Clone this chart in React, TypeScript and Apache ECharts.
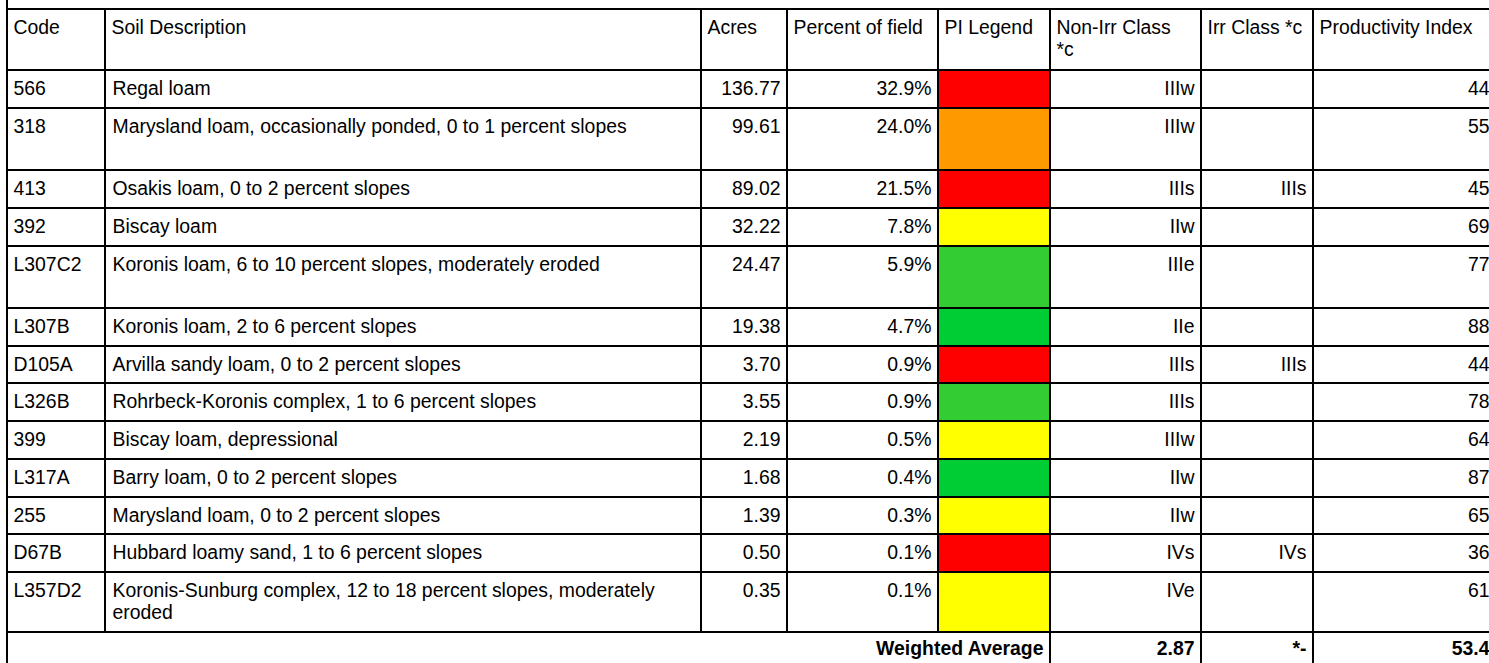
import React, { useEffect, useRef } from "react";
import * as echarts from "echarts";

// ---- data ----
const headers = [
  "Code",
  "Soil Description",
  "Acres",
  "Percent of field",
  "PI Legend",
  "Non-Irr Class\n*c",
  "Irr Class *c",
  "Productivity Index",
];
const codes = ["566", "318", "413", "392", "L307C2", "L307B", "D105A", "L326B", "399", "L317A", "255", "D67B", "L357D2"];
const descriptions = [
  "Regal loam",
  "Marysland loam, occasionally ponded, 0 to 1 percent slopes",
  "Osakis loam, 0 to 2 percent slopes",
  "Biscay loam",
  "Koronis loam, 6 to 10 percent slopes, moderately eroded",
  "Koronis loam, 2 to 6 percent slopes",
  "Arvilla sandy loam, 0 to 2 percent slopes",
  "Rohrbeck-Koronis complex, 1 to 6 percent slopes",
  "Biscay loam, depressional",
  "Barry loam, 0 to 2 percent slopes",
  "Marysland loam, 0 to 2 percent slopes",
  "Hubbard loamy sand, 1 to 6 percent slopes",
  "Koronis-Sunburg complex, 12 to 18 percent slopes, moderately\neroded",
];
const acres = [136.77, 99.61, 89.02, 32.22, 24.47, 19.38, 3.7, 3.55, 2.19, 1.68, 1.39, 0.5, 0.35];
const percentOfField = [32.9, 24.0, 21.5, 7.8, 5.9, 4.7, 0.9, 0.9, 0.5, 0.4, 0.3, 0.1, 0.1];
const nonIrrClass = ["IIIw", "IIIw", "IIIs", "IIw", "IIIe", "IIe", "IIIs", "IIIs", "IIIw", "IIw", "IIw", "IVs", "IVe"];
const irrClass = ["", "", "IIIs", "", "", "", "IIIs", "", "", "", "", "IVs", ""];
const productivityIndex = [44, 55, 45, 69, 77, 88, 44, 78, 64, 87, 65, 36, 61];
const weightedLabel = "Weighted Average";
const weightedNonIrr = "2.87";
const weightedIrr = "*-";
const weightedPI = "53.4";

// ---- layout ----
const colX = [7, 105, 701, 787, 938, 1050, 1201, 1313, 1496];
const rowY = [9, 70, 108, 170, 208, 246, 308, 346, 383, 421, 459, 497, 534, 572, 632, 700];
const FONT = "'Liberation Sans', Arial, Helvetica, sans-serif";
const FS = 19.4;
const LH = 22;
const PAD = 6.5;

function legendColor(pi: number): string {
  if (pi < 50) return "#FF0000";
  if (pi < 60) return "#FF9900";
  if (pi < 70) return "#FFFF00";
  if (pi < 80) return "#33CC33";
  return "#00CC33";
}

function txt(text: string, x: number, top: number, align: "left" | "right", bold = false, dy = 6.5) {
  return {
    type: "text",
    x,
    y: top + dy,
    silent: true,
    z: 20,
    style: {
      text,
      fill: "#000",
      fontFamily: FONT,
      fontSize: FS,
      fontWeight: bold ? "bold" : "normal",
      align,
      verticalAlign: "top",
      lineHeight: LH,
    },
  };
}

function line(x1: number, y1: number, x2: number, y2: number) {
  return {
    type: "line",
    silent: true,
    z: 30,
    shape: { x1, y1, x2, y2 },
    style: { stroke: "#000", lineWidth: 2 },
  };
}

function buildGraphics() {
  const els: any[] = [];
  // header
  headers.forEach((h, c) => {
    els.push(txt(h, colX[c] + PAD, rowY[0], "left"));
  });
  // body rows
  codes.forEach((code, i) => {
    const top = rowY[i + 1];
    const bottom = rowY[i + 2];
    els.push({
      type: "rect",
      silent: true,
      z: 10,
      shape: { x: colX[4], y: top, width: colX[5] - colX[4], height: bottom - top },
      style: { fill: legendColor(productivityIndex[i]) },
    });
    els.push(txt(code, colX[0] + PAD, top, "left"));
    els.push(txt(descriptions[i], colX[1] + PAD + 1, top, "left"));
    els.push(txt(acres[i].toFixed(2), colX[3] - PAD, top, "right"));
    els.push(txt(percentOfField[i].toFixed(1) + "%", colX[4] - PAD, top, "right"));
    els.push(txt(nonIrrClass[i], colX[6] - PAD, top, "right"));
    if (irrClass[i]) els.push(txt(irrClass[i], colX[7] - PAD, top, "right"));
    els.push(txt(String(productivityIndex[i]), colX[8] - PAD, top, "right"));
  });
  // weighted average row
  const wTop = rowY[codes.length + 1];
  els.push(txt(weightedLabel, colX[5] - PAD, wTop, "right", true, 4.5));
  els.push(txt(weightedNonIrr, colX[6] - PAD, wTop, "right", true, 4.5));
  els.push(txt(weightedIrr, colX[7] - PAD, wTop, "right", true, 4.5));
  els.push(txt(weightedPI, colX[8] - PAD, wTop, "right", true, 4.5));

  // horizontal lines
  for (let r = 0; r < rowY.length - 1; r++) {
    els.push(line(colX[0] - 1, rowY[r], 1500, rowY[r]));
  }
  // vertical lines
  const lastBodyBottom = rowY[codes.length + 1];
  els.push(line(colX[0], 0, colX[0], 663));
  for (let c = 1; c < colX.length; c++) {
    const full = c >= 5;
    els.push(line(colX[c], rowY[0] - 1, colX[c], full ? 700 : lastBodyBottom + 1));
  }
  return els;
}

export default function App() {
  const ref = useRef<HTMLDivElement>(null);
  useEffect(() => {
    if (!ref.current) return;
    const chart = echarts.init(ref.current, undefined, { renderer: "svg" });
    chart.setOption({
      animation: false,
      backgroundColor: "#ffffff",
      graphic: { elements: buildGraphics() },
    });
    return () => chart.dispose();
  }, []);
  return (
    <div
      ref={ref}
      style={{ position: "absolute", left: 0, top: 0, width: 1489, height: 663, background: "#fff" }}
    />
  );
}
